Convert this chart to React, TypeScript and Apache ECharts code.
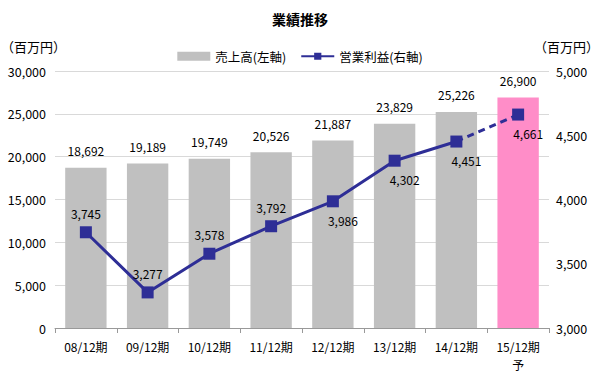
import React, { useEffect, useRef } from "react";
import * as echarts from "echarts";

const categories = ["08/12期", "09/12期", "10/12期", "11/12期", "12/12期", "13/12期", "14/12期", "15/12期\n予"];
const sales = [18692, 19189, 19749, 20526, 21887, 23829, 25226, 26900];
const profit = [3745, 3277, 3578, 3792, 3986, 4302, 4451, 4661];
const forecastIndex = 7;
const salesName = "売上高(左軸)";
const profitName = "営業利益(右軸)";
const unitLabel = "（百万円）";
const titleText = "業績推移";

const FONT = "'Noto Sans CJK JP', 'Noto Sans', sans-serif";
const fmt = (v: number) => Number(v).toLocaleString("en-US");

export default function App() {
  const ref = useRef<HTMLDivElement>(null);
  useEffect(() => {
    if (!ref.current) return;
    const chart = echarts.init(ref.current, null, { renderer: "svg" });
    const labelAbove = [true, true, true, true, false, false, false, false];
    const lineColor = "#2E2E96";

    const solidData = profit.map((v, i) =>
      i >= forecastIndex
        ? null
        : {
            value: v,
            label: labelAbove[i]
              ? { position: "top", distance: 7 }
              : { position: "bottom", distance: 7, offset: [10, 0] },
          }
    );
    const dashedData = profit.map((v, i) => {
      if (i < forecastIndex - 1) return null;
      if (i === forecastIndex - 1) return { value: v, symbol: "none", label: { show: false } };
      return { value: v, label: { position: "bottom", distance: 7, offset: [10, 0] } };
    });

    chart.setOption({
      animation: false,
      textStyle: { fontFamily: FONT },
      title: {
        text: titleText,
        left: "center",
        top: 7,
        textStyle: { fontSize: 14, fontWeight: "bold", color: "#000", fontFamily: FONT },
      },
      legend: {
        data: [
          { name: salesName, icon: "rect", itemStyle: { color: "#C0C0C0" } },
          { name: profitName },
        ],
        top: 45,
        left: "center",
        itemGap: 14,
        itemWidth: 33,
        itemHeight: 9,
        textStyle: { fontSize: 12.5, color: "#000", fontFamily: FONT },
      },
      graphic: [
        { type: "text", left: 1, top: 40, style: { text: unitLabel, fontSize: 13, fill: "#000", fontFamily: FONT } },
        { type: "text", right: 1, top: 40, style: { text: unitLabel, fontSize: 13, fill: "#000", fontFamily: FONT } },
      ],
      grid: { left: 55, right: 51, top: 71, bottom: 46 },
      xAxis: {
        type: "category",
        data: categories,
        axisLine: { lineStyle: { color: "#999" } },
        axisTick: { show: true, length: 5, lineStyle: { color: "#999" } },
        axisLabel: { color: "#000", fontSize: 12, margin: 9, lineHeight: 18, fontFamily: FONT },
      },
      yAxis: [
        {
          type: "value",
          min: 0,
          max: 30000,
          interval: 5000,
          axisLine: { show: false },
          axisTick: { show: false },
          splitLine: { lineStyle: { color: "#D9D9D9" } },
          axisLabel: { color: "#000", fontSize: 12.5, margin: 9, formatter: fmt, fontFamily: FONT },
        },
        {
          type: "value",
          min: 3000,
          max: 5000,
          interval: 500,
          axisLine: { show: false },
          axisTick: { show: false },
          splitLine: { show: false },
          axisLabel: { color: "#000", fontSize: 12.5, margin: 7, formatter: fmt, fontFamily: FONT },
        },
      ],
      series: [
        {
          name: salesName,
          type: "bar",
          yAxisIndex: 0,
          barCategoryGap: "33%",
          data: sales.map((v, i) => ({
            value: v,
            itemStyle: { color: i === forecastIndex ? "#FF8DC8" : "#C0C0C0" },
          })),
          label: { show: true, position: "top", distance: 11, color: "#000", fontSize: 12, formatter: (p: any) => fmt(p.value) },
        },
        {
          name: profitName,
          type: "line",
          yAxisIndex: 1,
          data: solidData,
          symbol: "rect",
          symbolSize: 12,
          lineStyle: { color: lineColor, width: 3 },
          itemStyle: { color: lineColor },
          label: { show: true, color: "#000", fontSize: 12, formatter: (p: any) => fmt(p.value) },
          z: 3,
        },
        {
          name: "forecast",
          type: "line",
          yAxisIndex: 1,
          data: dashedData,
          symbol: "rect",
          symbolSize: 12,
          lineStyle: { color: lineColor, width: 3, type: [7, 5] },
          itemStyle: { color: lineColor },
          label: { show: true, color: "#000", fontSize: 12, formatter: (p: any) => fmt(p.value) },
          z: 3,
        },
      ],
    });
    return () => chart.dispose();
  }, []);
  return <div ref={ref} style={{ width: 600, height: 374, position: "absolute", left: 0, top: 0 }} />;
}
